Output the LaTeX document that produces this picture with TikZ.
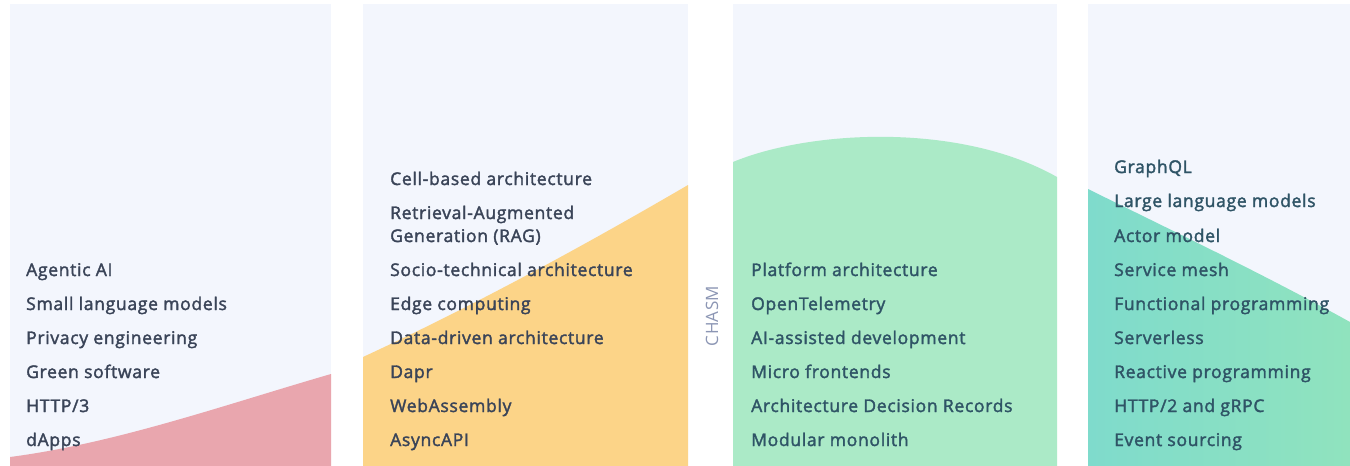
\documentclass[tikz,border=0pt]{standalone}
\usepackage{fontspec}
\setmainfont{Open Sans}
\newfontfamily\itemfont[FakeBold=2,LetterSpace=4]{Open Sans}
\newfontfamily\chasmfont[LetterSpace=2]{Open Sans}
\definecolor{panelbg}{HTML}{F3F6FD}
\definecolor{redf}{HTML}{E9A6AE}
\definecolor{yelf}{HTML}{FCD488}
\definecolor{grnf}{HTML}{ABEAC7}
\definecolor{tealL}{HTML}{7FDBCC}
\definecolor{tealR}{HTML}{90E3BE}
\definecolor{txtA}{HTML}{3A4458}
\definecolor{txtB}{HTML}{2F5466}
\definecolor{chasmc}{HTML}{8C96B4}
\begin{document}
\begin{tikzpicture}[x=1pt,y=-1pt,
  item/.style={anchor=base west,inner sep=0pt,font=\itemfont\fontsize{17.5}{23}\selectfont,text=txtA,align=left},
  itemB/.style={item,text=txtB}]
\path[use as bounding box,fill=white] (0,0) rectangle (1350,466);
% panels
\fill[panelbg] (10,4) rectangle (331,466);
\fill[panelbg] (363,4) rectangle (688,466);
\fill[panelbg] (733,4) rectangle (1057,466);
\fill[panelbg] (1088,4) rectangle (1350,466);
% curves
\fill[redf] (10,466) -- (10,457) .. controls (117,443) and (224,405) .. (331,374) -- (331,466) -- cycle;
\fill[yelf] (363,466) -- (363,357) .. controls (471,307) and (580,248) .. (688,185) -- (688,466) -- cycle;
\fill[grnf] (733,466) -- (733,162) .. controls (810,130) and (960,122) .. (1057,177) -- (1057,466) -- cycle;
\shade[left color=tealL,right color=tealR] (1088,466) -- (1088,189) .. controls (1175,232) and (1265,275) .. (1350,322) -- (1350,466) -- cycle;
% panel 1
\node[item] (a1) at (26,276) {Agentic AI};
\node[item] (a2) at (26,310) {Small language models};
\node[item] (a3) at (26,344) {Privacy engineering};
\node[item] (a4) at (26,378) {Green software};
\node[item] (a5) at (26,412) {HTTP/3};
\node[item] (a6) at (26,446) {dApps};
% panel 2
\node[item] (b1) at (390,185) {Cell-based architecture};
\node[item] (b2) at (390,242) {Retrieval-Augmented\\Generation (RAG)};
\node[item] (b3) at (390,276) {Socio-technical architecture};
\node[item] (b4) at (390,310) {Edge computing};
\node[item] (b5) at (390,344) {Data-driven architecture};
\node[item] (b6) at (390,378) {Dapr};
\node[item] (b7) at (390,412) {WebAssembly};
\node[item] (b8) at (390,446) {AsyncAPI};
% chasm
\node[rotate=90,inner sep=0pt,text=chasmc,font=\chasmfont\fontsize{17}{18}\selectfont] (ch) at (712,316) {CHASM};
% panel 3
\node[itemB] (c1) at (751,276) {Platform architecture};
\node[itemB] (c2) at (751,310) {OpenTelemetry};
\node[itemB] (c3) at (751,344) {AI-assisted development};
\node[itemB] (c4) at (751,378) {Micro frontends};
\node[itemB] (c5) at (751,412) {Architecture Decision Records};
\node[itemB] (c6) at (751,446) {Modular monolith};
% panel 4
\node[itemB] (d1) at (1114,173) {GraphQL};
\node[itemB] (d2) at (1114,207) {Large language models};
\node[itemB] (d3) at (1114,242) {Actor model};
\node[itemB] (d4) at (1114,276) {Service mesh};
\node[itemB] (d5) at (1114,310) {Functional programming};
\node[itemB] (d6) at (1114,344) {Serverless};
\node[itemB] (d7) at (1114,378) {Reactive programming};
\node[itemB] (d8) at (1114,412) {HTTP/2 and gRPC};
\node[itemB] (d9) at (1114,446) {Event sourcing};
\end{tikzpicture}
\end{document}
